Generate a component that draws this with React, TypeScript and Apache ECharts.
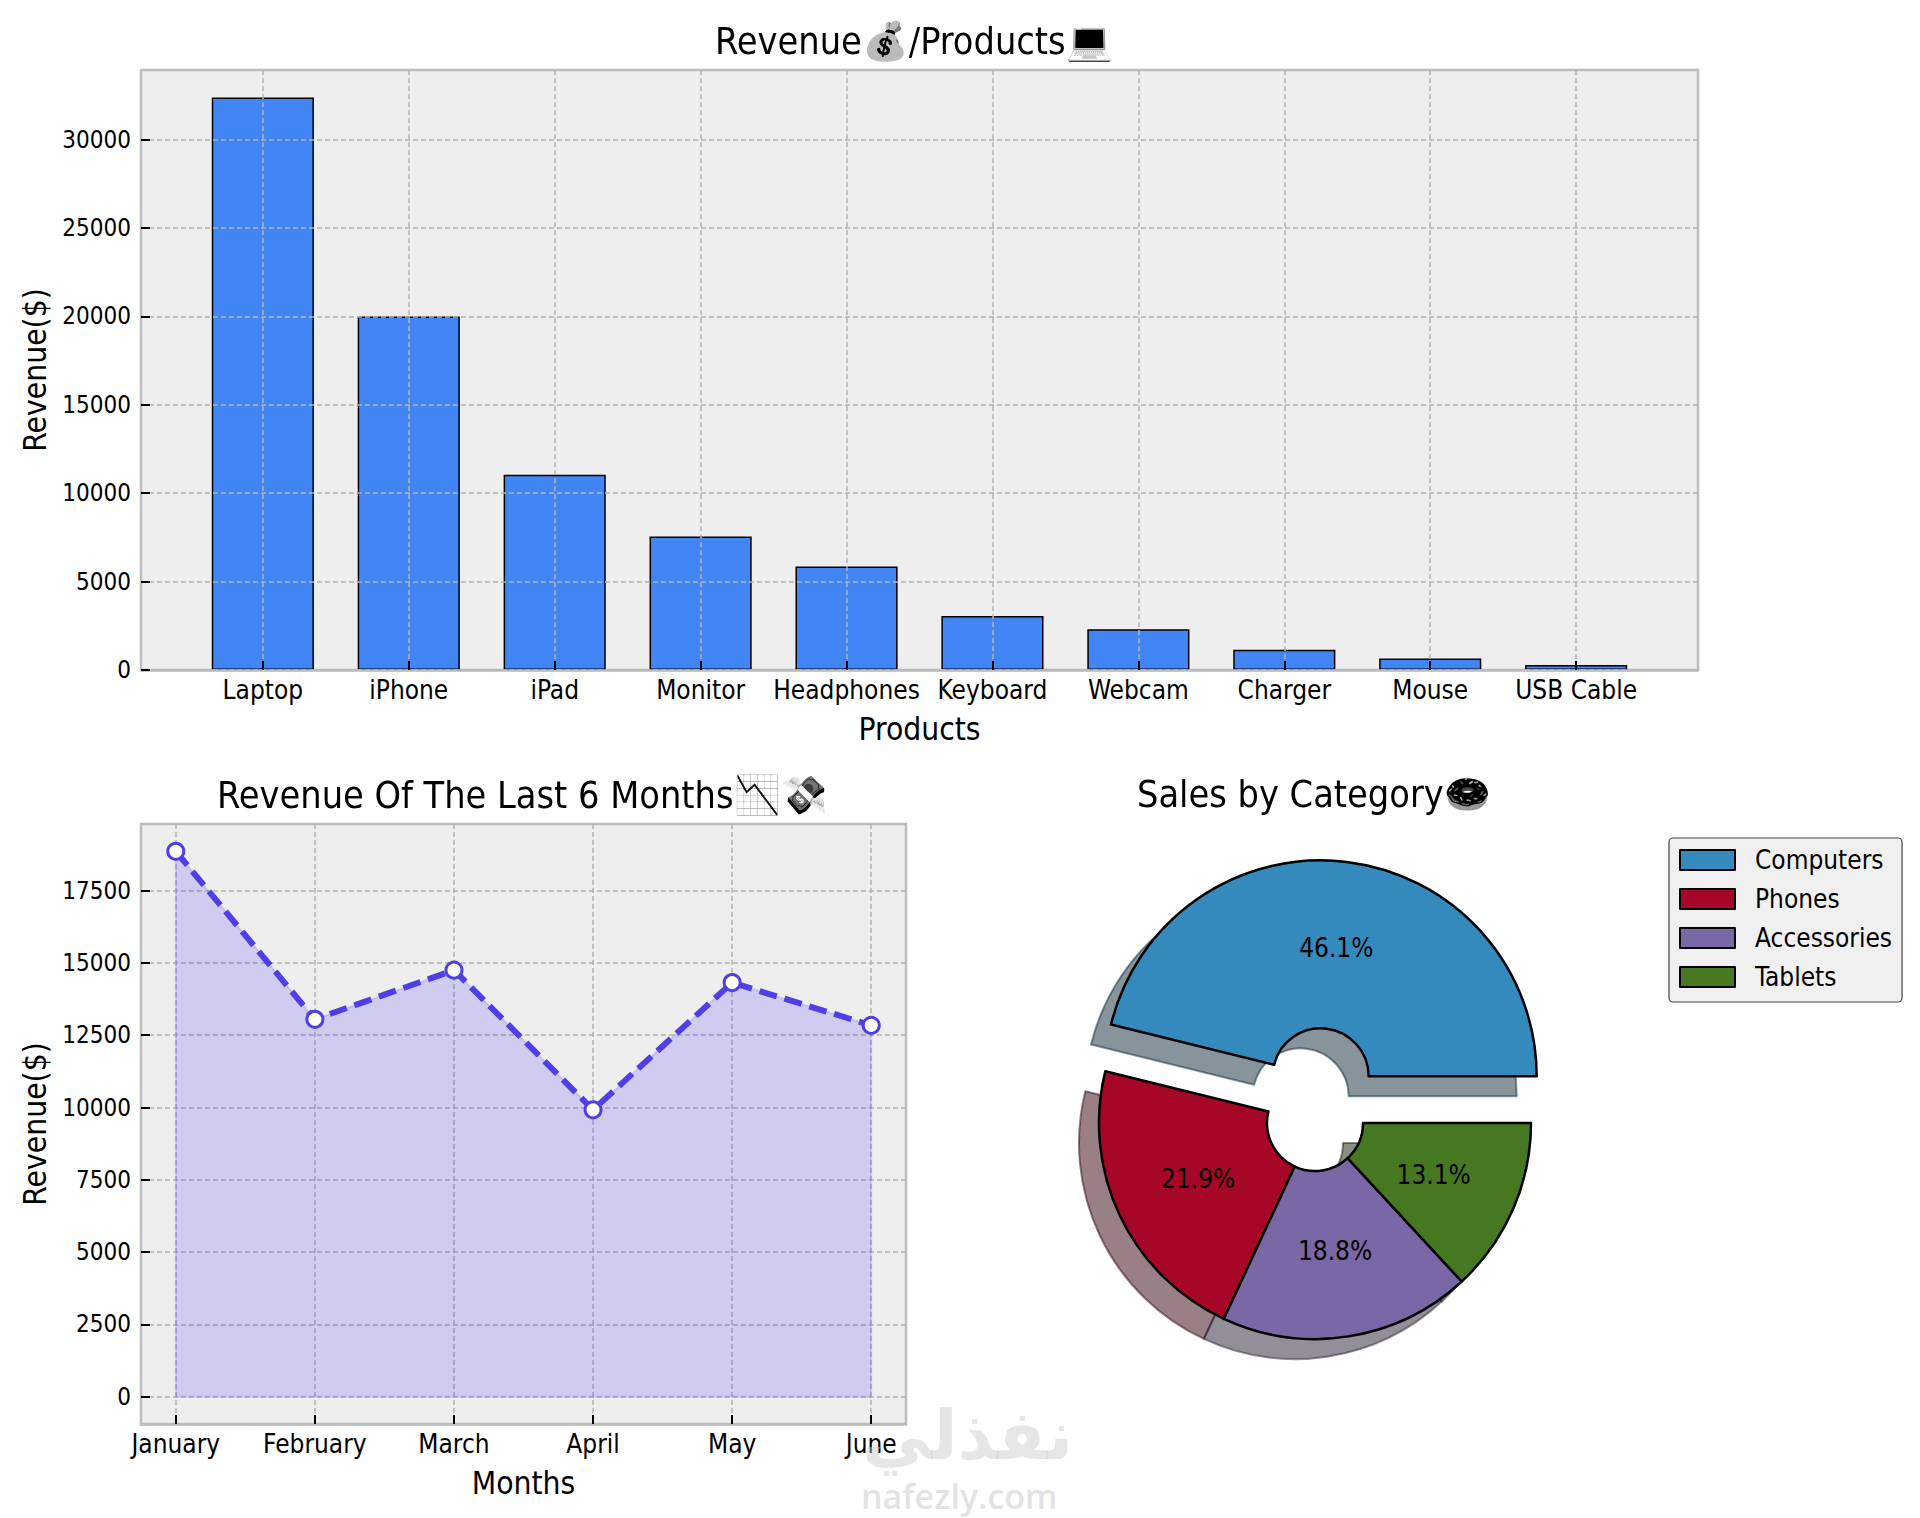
import React, { useEffect, useRef } from "react";
import * as echarts from "echarts";

const FONT = '"DejaVu Sans Condensed", "DejaVu Sans", sans-serif';

const products = ["Laptop", "iPhone", "iPad", "Monitor", "Headphones", "Keyboard", "Webcam", "Charger", "Mouse", "USB Cable"];
const productRevenue = [32380, 20000, 11050, 7550, 5850, 3050, 2300, 1150, 650, 280];
const revenueTicks = [0, 5000, 10000, 15000, 20000, 25000, 30000];

const months = ["January", "February", "March", "April", "May", "June"];
const monthRevenue = [18860, 13050, 14750, 9920, 14320, 12840];
const monthTicks = [0, 2500, 5000, 7500, 10000, 12500, 15000, 17500];

const categories = ["Computers", "Phones", "Accessories", "Tablets"];
const categoryShare = [46.1, 21.9, 18.8, 13.1];
const categoryColors = ["#348ABD", "#A60628", "#7A68A6", "#467821"];
const shadowColors = ["rgba(16,41,57,0.5)", "rgba(50,2,12,0.5)", "rgba(37,31,50,0.5)", "rgba(21,36,10,0.5)"];

const xText = { fontFamily: FONT, fontSize: 26, color: "#000" };
const yText = { fontFamily: FONT, fontSize: 24, color: "#000" };
const nameText = { fontFamily: FONT, fontSize: 31.5, color: "#000" };
const titleText = { fontFamily: FONT, fontSize: 37.5, fontWeight: "normal", color: "#000" };
const gridLine = { show: true, lineStyle: { color: "#b2b2b2", type: [5, 3] as number[], width: 1.5 } };
const tick = { show: true, inside: true, length: 9, lineStyle: { color: "#000", width: 2 } };
const spineColor = "#bcbcbc";
const noLine = { show: false, onZero: false };
const bottomSpine = { show: true, onZero: false, lineStyle: { color: spineColor, width: 2.5 } };

function App() {
  const ref = useRef<HTMLDivElement>(null);
  useEffect(() => {
    document.body.style.margin = "0";
    const chart = echarts.init(ref.current!, undefined, { renderer: "svg" });
    const idx = (arr: number[] | string[]) => arr.map((_, i) => i);
    const plain = (v: number) => String(v);
    chart.setOption({
      animation: false,
      backgroundColor: "#fff",
      title: [
        { text: "Revenue💰/Products💻", left: 715, top: 22, textStyle: titleText, padding: 0 },
        { text: "Revenue Of The Last 6 Months📉💸", left: 217, top: 776, textStyle: titleText, padding: 0 },
        { text: "Sales by Category🍩", left: 1137, top: 775, textStyle: titleText, padding: 0 },
      ],
      grid: [
        { left: 141, top: 70, width: 1557, height: 600, show: true, backgroundColor: "#eeeeee", borderColor: spineColor, borderWidth: 2.5 },
        { left: 141, top: 824, width: 765, height: 600, show: true, backgroundColor: "#eeeeee", borderColor: spineColor, borderWidth: 2.5 },
      ],
      xAxis: [
        {
          type: "value", gridIndex: 0, min: -0.835, max: 9.835, z: 3,
          name: "Products", nameLocation: "middle", nameGap: 43, nameTextStyle: nameText,
          axisLine: bottomSpine,
          axisTick: { ...tick, customValues: idx(products) },
          splitLine: gridLine,
          axisLabel: { ...xText, margin: 7, customValues: idx(products), formatter: (v: number) => products[v] },
        },
        {
          type: "value", gridIndex: 1, min: -0.25, max: 5.25, z: 1,
          name: "Months", nameLocation: "middle", nameGap: 43, nameTextStyle: nameText,
          axisLine: bottomSpine,
          axisTick: { ...tick, customValues: idx(months) },
          splitLine: gridLine,
          axisLabel: { ...xText, margin: 7, customValues: idx(months), formatter: (v: number) => months[v] },
        },
      ],
      yAxis: [
        {
          type: "value", gridIndex: 0, min: 0, max: 33936, z: 3,
          name: "Revenue($)", nameLocation: "middle", nameGap: 90, nameTextStyle: nameText,
          axisLine: noLine,
          axisTick: { ...tick, customValues: revenueTicks },
          splitLine: gridLine,
          axisLabel: { ...yText, margin: 10, customValues: revenueTicks, formatter: plain },
        },
        {
          type: "value", gridIndex: 1, min: -943, max: 19803, z: 1,
          name: "Revenue($)", nameLocation: "middle", nameGap: 90, nameTextStyle: nameText,
          axisLine: noLine,
          axisTick: { ...tick, customValues: monthTicks },
          splitLine: gridLine,
          axisLabel: { ...yText, margin: 10, customValues: monthTicks, formatter: plain },
        },
      ],
      legend: {
        data: categories, orient: "vertical", left: 1669, top: 838, selectedMode: false,
        icon: "rect", itemWidth: 55, itemHeight: 20, itemGap: 13,
        backgroundColor: "#f0f0f0", borderColor: "#444", borderWidth: 1.2, borderRadius: 4, padding: [9, 10, 12, 10],
        textStyle: { fontFamily: FONT, fontSize: 26, color: "#000", padding: [0, 0, 0, 15] },
        itemStyle: { borderColor: "#000", borderWidth: 2 },
      },
      series: [
        {
          type: "bar", xAxisIndex: 0, yAxisIndex: 0, barWidth: "70%", z: 2,
          data: productRevenue.map((v, i) => [i, v]),
          itemStyle: { color: "#4285F4", borderColor: "#000", borderWidth: 1.5 },
        },
        {
          type: "line", xAxisIndex: 1, yAxisIndex: 1, z: 2, symbol: "none", silent: true,
          data: [[0, 0], ...monthRevenue.map((v, i) => [i, v]), [months.length - 1, 0], [0, 0]],
          lineStyle: { color: "rgba(79,60,229,0.15)", width: 2 },
        },
        {
          type: "line", xAxisIndex: 1, yAxisIndex: 1, z: 3, clip: false,
          data: monthRevenue.map((v, i) => [i, v]),
          symbol: "circle", symbolSize: 16,
          itemStyle: { color: "#fff", borderColor: "#4F3FE8", borderWidth: 3 },
          lineStyle: { color: "#4F3FE8", width: 6, type: [18, 8] },
          areaStyle: { color: "rgba(79,60,245,0.27)" },
        },
        {
          type: "pie", z: 4, center: [1315, 1123], radius: [48, 216], startAngle: 0, clockwise: false,
          selectedMode: "multiple", selectedOffset: 47, silent: true,
          data: categories.map((name, i) => ({ name, value: categoryShare[i], selected: i === 0, itemStyle: { color: categoryColors[i] } })),
          itemStyle: { borderColor: "#000", borderWidth: 2.5 },
          label: { show: false }, labelLine: { show: false },
        },
        {
          type: "pie", z: 5, center: [1315, 1123], radius: [37, 216], startAngle: 0, clockwise: false,
          selectedMode: "multiple", selectedOffset: 47, silent: true,
          data: categories.map((name, i) => ({ name, value: categoryShare[i], selected: i === 0 })),
          itemStyle: { color: "rgba(0,0,0,0)" },
          label: { position: "inside", formatter: (p: any) => `${p.value}%`, fontFamily: FONT, fontSize: 26, color: "#000", padding: [0, 0, 5, 0] },
          labelLine: { show: false },
        },
        {
          type: "pie", z: 1, center: [1295, 1143], radius: [48, 216], startAngle: 0, clockwise: false,
          selectedMode: "multiple", selectedOffset: 47, silent: true,
          data: categories.map((name, i) => ({ name, value: categoryShare[i], selected: i === 0, itemStyle: { color: shadowColors[i], borderColor: shadowColors[i], borderWidth: 2 } })),
          label: { show: false }, labelLine: { show: false },
        },
      ],
      graphic: [
        { type: "text", z: 100, silent: true, left: 862, top: 1400, style: { text: "نفذلي", fontFamily: "DejaVu Sans", fontWeight: "bold", fontSize: 69, fill: "rgba(200,200,200,0.45)" } },
        { type: "text", z: 100, silent: true, left: 861, top: 1478, style: { text: "nafezly.com", fontFamily: "Open Sans", fontWeight: 600, fontSize: 34, lineHeight: 36, fill: "rgba(200,200,200,0.5)" } },
      ],
    });
    // The reference's emoji are monochrome: drain the colour from the title texts (black letters stay black).
    ref.current!.querySelectorAll("text").forEach((t) => {
      if (/\p{Extended_Pictographic}/u.test(t.textContent || "")) {
        (t as unknown as HTMLElement).style.filter = "grayscale(1) brightness(0.75) contrast(2.5)";
      }
    });
    return () => chart.dispose();
  }, []);
  return <div ref={ref} style={{ position: "absolute", left: 0, top: 0, width: 1920, height: 1518 }} />;
}

export default App;
